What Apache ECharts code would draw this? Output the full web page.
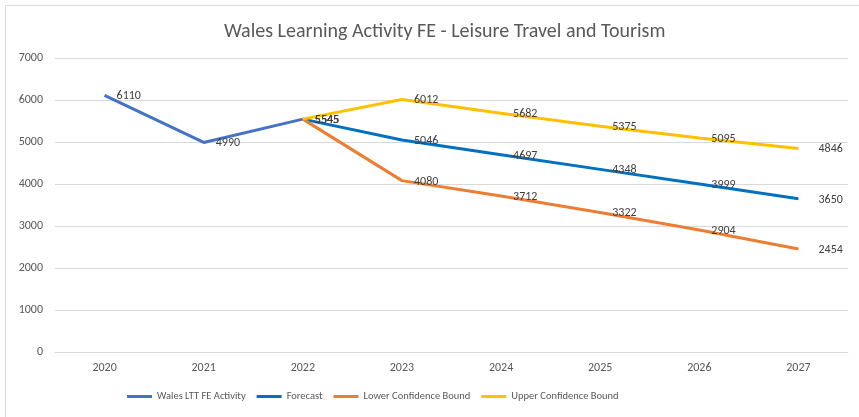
<!DOCTYPE html>
<html><head><meta charset="utf-8">
<script src="https://cdn.jsdelivr.net/npm/echarts@6/dist/echarts.min.js"></script>
<style>html,body{margin:0;padding:0;background:#fff}#c{width:859px;height:417px}</style>
</head><body><div id="c"></div>
<script>
const categories = ['2020','2021','2022','2023','2024','2025','2026','2027'];
const actual = [6110, 4990, 5545, null, null, null, null, null];
const forecast = [null, null, 5545, 5046, 4697, 4348, 3999, 3650];
const lower = [null, null, 5545, 4080, 3712, 3322, 2904, 2454];
const upper = [null, null, 5545, 6012, 5682, 5375, 5095, 4846];
const yTicks = [0, 1000, 2000, 3000, 4000, 5000, 6000, 7000];

const chart = echarts.init(document.getElementById('c'));
const font = 'Calibri, Carlito, Lato, "Liberation Sans", sans-serif';
function mk(name, data, color) {
  return {
    name, type: 'line', data, symbol: 'circle', symbolSize: 0.1, showSymbol: true, connectNulls: false,
    lineStyle: { color, width: 3 }, itemStyle: { color },
    label: {
      show: true, position: 'right', distance: 12, color: '#404040', fontSize: 12, fontFamily: font,
      formatter: p => (p.value == null ? '' : String(p.value))
    },
    labelLayout: p => (p.dataIndex === 7 ? { dx: 8, dy: 1 } : { dy: 1 })
  };
}
chart.setOption({
  animation: false,
  textStyle: { fontFamily: font },
  title: { text: 'Wales Learning Activity FE - Leisure Travel and Tourism', left: 219, top: 17,
    textStyle: { fontSize: 20, fontWeight: 'normal', color: '#595959', fontFamily: font } },
  graphic: [{ type: 'rect', shape: { x: 5.5, y: 5.5, width: 900, height: 420 }, style: { fill: 'none', stroke: '#d9d9d9', lineWidth: 1 }, silent: true }],
  grid: { left: 55, right: 11, top: 58, bottom: 65 },
  legend: {
    bottom: 10, left: 122, itemWidth: 25, itemHeight: 3, itemGap: 11,
    icon: 'rect',
    textStyle: { color: '#595959', fontSize: 10.5, fontFamily: font },
    data: ['Wales LTT FE Activity', 'Forecast', 'Lower Confidence Bound', 'Upper Confidence Bound']
  },
  xAxis: {
    type: 'category', data: categories, boundaryGap: true,
    axisLine: { lineStyle: { color: '#d9d9d9' } }, axisTick: { show: false },
    axisLabel: { color: '#595959', fontSize: 12, margin: 10 }
  },
  yAxis: {
    type: 'value', min: yTicks[0], max: yTicks[yTicks.length - 1], interval: 1000,
    axisLine: { show: false }, axisTick: { show: false },
    axisLabel: { color: '#595959', fontSize: 12, margin: 12, formatter: v => String(v) },
    splitLine: { lineStyle: { color: '#d9d9d9' } }
  },
  series: [
    mk('Wales LTT FE Activity', actual, '#4472C4'),
    mk('Forecast', forecast, '#0070C0'),
    mk('Lower Confidence Bound', lower, '#ED7D31'),
    mk('Upper Confidence Bound', upper, '#FFC000')
  ]
});
</script></body></html>
